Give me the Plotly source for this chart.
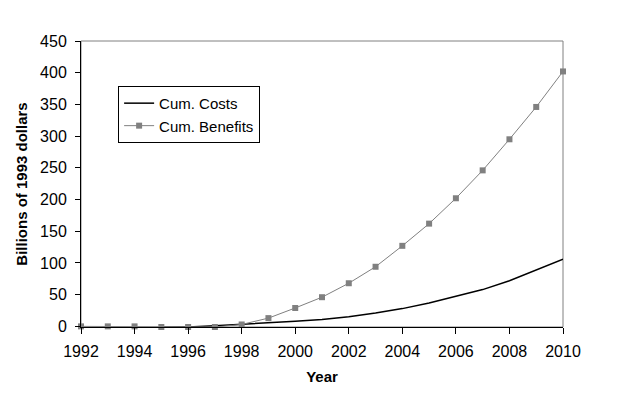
import plotly.graph_objects as go

years = list(range(1992, 2011))
cum_costs = [None, None, None, -1, -1, 1, 3, 5, 8, 11, 15, 21, 28, 37, 47, 58, 72, 89, 106]
cum_benefits = [0, 0, 0, -1, -1, -1, 3, 13, 29, 46, 68, 94, 127, 162, 202, 246, 295, 346, 402]

fig = go.Figure()
fig.add_trace(go.Scatter(x=years, y=cum_costs, name="Cum. Costs", mode="lines",
                         line=dict(color="black", width=1.5)))
fig.add_trace(go.Scatter(x=years, y=cum_benefits, name="Cum. Benefits", mode="lines+markers",
                         line=dict(color="#808080", width=1),
                         marker=dict(symbol="square", size=6, color="#808080")))
fig.update_traces(cliponaxis=False)

fig.add_shape(type="rect", xref="x domain", yref="y domain", x0=0, x1=1, y0=0, y1=1,
              line=dict(color="#808080", width=1), layer="below")

font = dict(family="Liberation Sans, Arial, sans-serif", size=16, color="black")
fig.update_layout(
    width=604, height=379,
    margin=dict(l=73, r=49, t=33, b=60),
    paper_bgcolor="white", plot_bgcolor="white",
    font=font,
    showlegend=True,
    legend=dict(x=0.077, y=0.843, xanchor="left", yanchor="top",
                bordercolor="black", borderwidth=1, bgcolor="white",
                font=dict(size=15), tracegroupgap=2),
    xaxis=dict(range=[1992, 2010], dtick=2, tick0=1992, showgrid=False, zeroline=False,
               showline=True, linecolor="black", linewidth=1, ticks="outside", ticklen=6,
               tickcolor="black", automargin=False, ticklabelstandoff=4,
               title=dict(text="<b>Year</b>", standoff=12, font=dict(size=15))),
    yaxis=dict(range=[-1, 450], dtick=50, showgrid=False, zeroline=False,
               showline=True, linecolor="black", linewidth=1, ticks="outside", ticklen=5,
               tickcolor="black", automargin=False, ticklabelstandoff=5,
               title=dict(text="<b>Billions of 1993 dollars</b>", standoff=8, font=dict(size=15))),
)
fig.write_html("out.html")
